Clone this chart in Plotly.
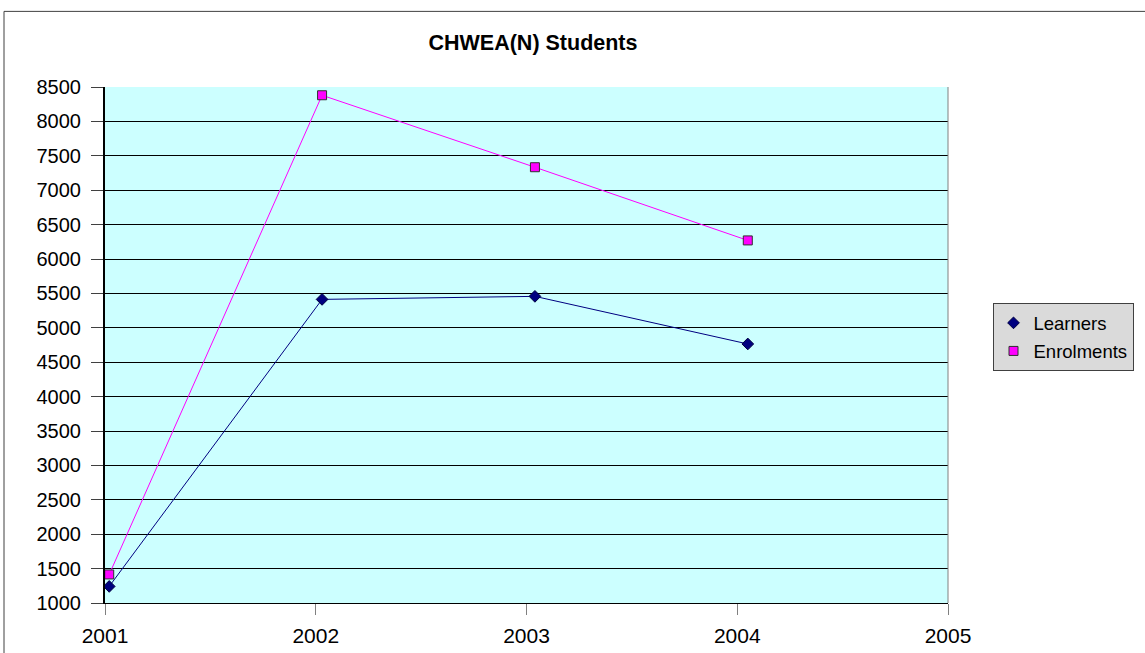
import plotly.graph_objects as go

years = [2001.02, 2002.03, 2003.04, 2004.05]
learners = [1241, 5413, 5457, 4765]
enrolments = [1415, 8380, 7334, 6270]
x_ticks = [2001, 2002, 2003, 2004, 2005]
y_ticks = list(range(1000, 8501, 500))

FONT = "Liberation Sans, Arial, sans-serif"

fig = go.Figure()
# connecting lines (no legend entry)
fig.add_trace(go.Scatter(x=years, y=learners, mode="lines", showlegend=False,
                         line=dict(color="#000080", width=1), hoverinfo="skip"))
fig.add_trace(go.Scatter(x=years, y=enrolments, mode="lines", showlegend=False,
                         line=dict(color="#ff00ff", width=1), hoverinfo="skip"))
# markers (legend entries)
fig.add_trace(go.Scatter(
    x=years, y=learners, name="Learners", mode="markers", legendgroup="a",
    marker=dict(symbol="diamond", size=9, color="#000080",
                line=dict(color="#000040", width=1)),
))
fig.add_trace(go.Scatter(
    x=years, y=enrolments, name="Enrolments", mode="markers", legendgroup="b",
    marker=dict(symbol="square", size=9, color="#ff00ff",
                line=dict(color="#303030", width=1)),
))

L, R, T, B = 105, 948, 86.7, 603.3
W, H = 1145, 653
pw, ph = R - L, B - T

fig.update_layout(
    width=W, height=H,
    margin=dict(l=L, r=W - R, t=T, b=H - B, pad=0, autoexpand=False),
    paper_bgcolor="white",
    plot_bgcolor="#ccffff",
    font=dict(family=FONT, size=18, color="black"),
    title=dict(text="<b>CHWEA(N) Students</b>", font=dict(family=FONT, size=21.5, color="black"),
               x=533 / W, xanchor="center", xref="container",
               y=1 - 42 / H, yanchor="middle", yref="container"),
    showlegend=True,
    legend=dict(x=(992.5 - L) / pw, y=(B - 303.3) / ph, xanchor="left", yanchor="top",
                bgcolor="#dadada", bordercolor="#404040", borderwidth=1,
                font=dict(family=FONT, size=18.5, color="black"),
                itemwidth=30, tracegroupgap=1),
    xaxis=dict(range=[2001, 2005], tickvals=x_ticks, ticktext=[str(v) for v in x_ticks],
               showgrid=False, zeroline=False, showline=True, linecolor="black", linewidth=1,
               ticks="outside", ticklen=11, tickcolor="#808080", tickwidth=1,
               ticklabelstandoff=3, automargin=False,
               tickfont=dict(family=FONT, size=21, color="black")),
    yaxis=dict(range=[1000, 8500], tickvals=y_ticks, ticktext=[str(v) for v in y_ticks],
               showgrid=True, gridcolor="black", gridwidth=1, zeroline=False,
               showline=True, linecolor="black", linewidth=2, automargin=False,
               ticks="outside", ticklen=12, tickcolor="#404040", ticklabelstandoff=6,
               tickfont=dict(family=FONT, size=20, color="black")),
    shapes=[
        dict(type="rect", xref="paper", yref="paper",
             x0=(4 - L) / pw, x1=(W + 20 - L) / pw,
             y0=(B - (H + 20)) / ph, y1=(B - 11) / ph,
             line=dict(color="#404040", width=1), fillcolor="rgba(0,0,0,0)", layer="below"),
        dict(type="line", xref="paper", yref="paper", x0=1, x1=1, y0=0, y1=1,
             line=dict(color="#808080", width=1), layer="above"),
    ],
)

fig.write_html("out.html", config={"displayModeBar": False},
               post_script="document.body.style.margin='0';")
